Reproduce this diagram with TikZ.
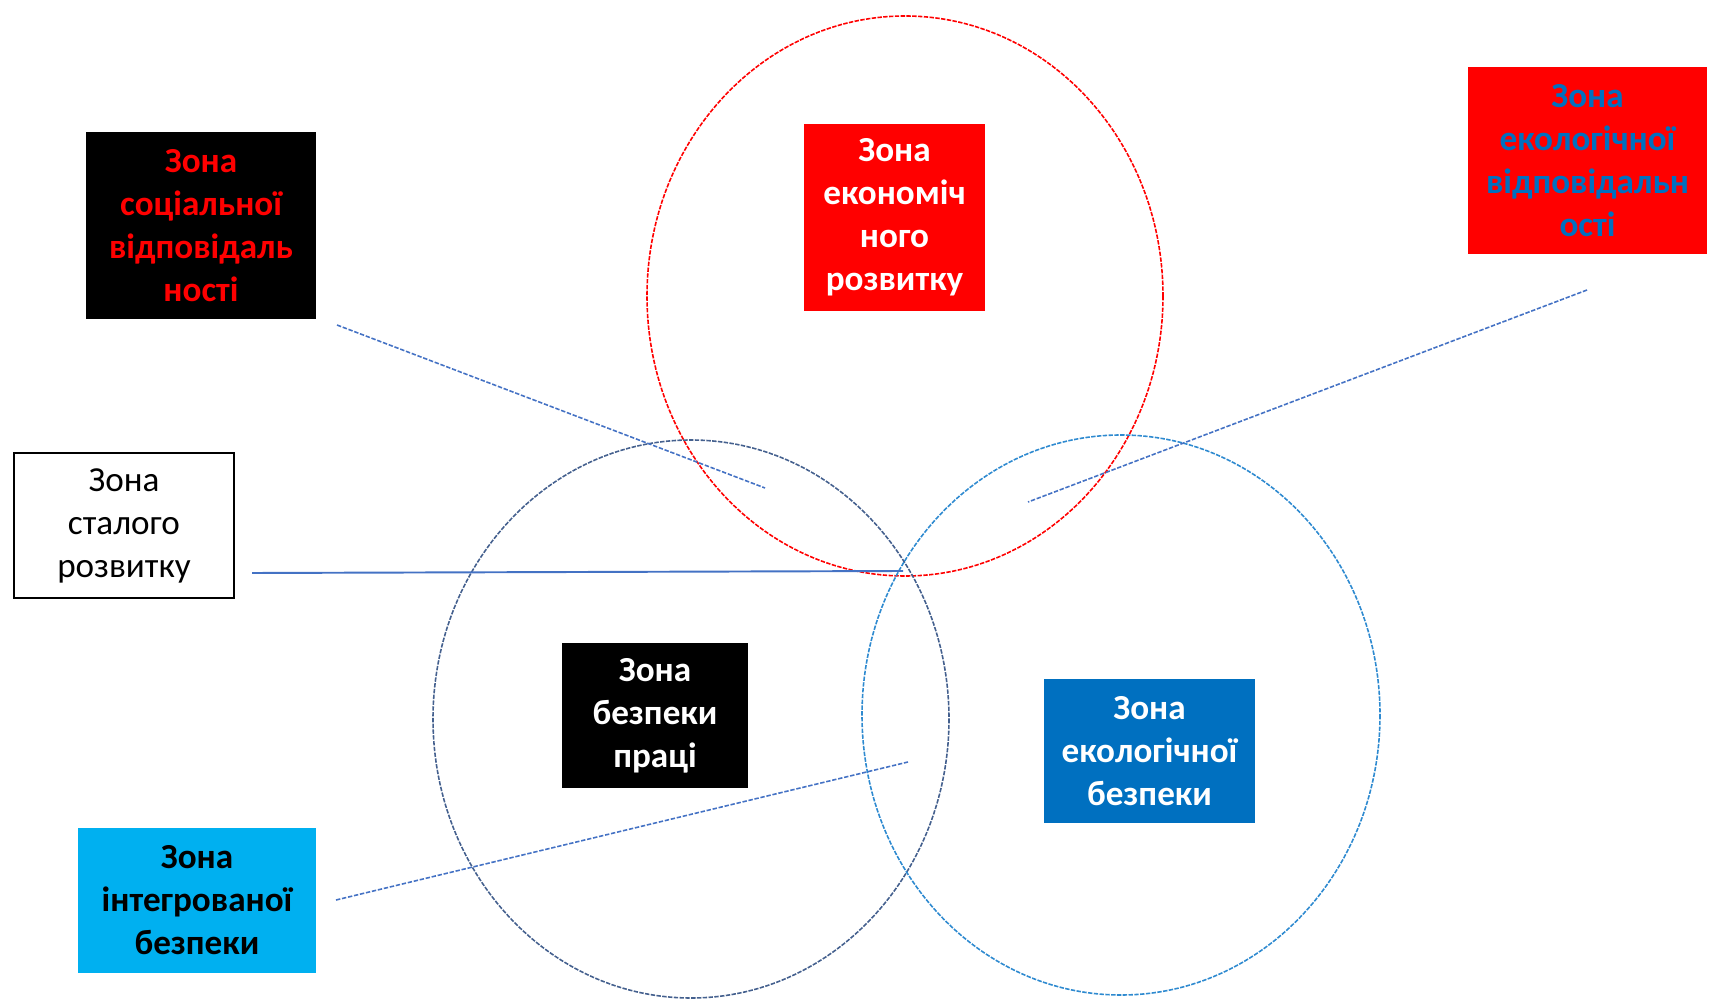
\documentclass[tikz,border=0pt]{standalone}
\usepackage{fontspec}
\setmainfont{Carlito}
\definecolor{zred}{HTML}{FF0000}
\definecolor{zblue}{HTML}{0070C0}
\definecolor{zcyan}{HTML}{00B0F0}
\definecolor{zlink}{HTML}{4472C4}
\definecolor{zdark}{HTML}{44608E}
\definecolor{zlight}{HTML}{2E8AD0}
\begin{document}
\begin{tikzpicture}[x=0.02cm,y=-0.02cm,
  zone/.style={align=center,inner sep=0pt,font=\fontsize{20}{24.5}\selectfont\bfseries},
  ring/.style={line width=0.9pt,dash pattern=on 2.5pt off 0.8pt},
  link/.style={zlink,line width=0.9pt,dash pattern=on 2.5pt off 1pt}]
\useasboundingbox (0,0) rectangle (1710,999);

% three overlapping zones
\draw[ring,zred]   (905,296) ellipse [x radius=258, y radius=280];
\draw[ring,zdark]  (691,719) ellipse [x radius=258, y radius=279];
\draw[ring,zlight] (1121,715) ellipse [x radius=259, y radius=280];

% label boxes
\node[zone,fill=black,text=zred,minimum width=230*0.02cm,minimum height=187*0.02cm] (soc) at (201,225.5)
  {Зона\\соціальної\\відповідаль\\ності};
\node[zone,fill=zred,text=zblue,minimum width=239*0.02cm,minimum height=187*0.02cm] (ecoresp) at (1587.5,160.5)
  {Зона\\екологічної\\відповідальн\\ості};
\node[zone,fill=zred,text=white,minimum width=181*0.02cm,minimum height=187*0.02cm] (econ) at (894.5,217.5)
  {Зона\\економіч\\ного\\розвитку};
\node[zone,draw=black,line width=1pt,fill=white,text=black,font=\fontsize{20}{24.5}\selectfont,minimum width=220*0.02cm,minimum height=145*0.02cm] (sust) at (124,525.5)
  {Зона\\сталого\\розвитку};
\node[zone,fill=zcyan,text=black,minimum width=238*0.02cm,minimum height=145*0.02cm] (integ) at (197,900.5)
  {Зона\\інтегрованої\\безпеки};
\node[zone,fill=black,text=white,minimum width=186*0.02cm,minimum height=145*0.02cm] (labour) at (655,715.5)
  {Зона\\безпеки\\праці};
\node[zone,fill=zblue,text=white,minimum width=211*0.02cm,minimum height=144*0.02cm] (ecosafe) at (1149.5,751)
  {Зона\\екологічної\\безпеки};

% connector ends pointing into the overlaps
\coordinate (socA) at (337,325);
\coordinate (socB) at (765,488);
\coordinate (ecoA) at (1587,290);
\coordinate (ecoB) at (1028,502);
\coordinate (sustA) at (252,573);
\coordinate (sustB) at (903,571);
\coordinate (intA) at (336,900);
\coordinate (intB) at (908,762);

\draw[link] (socA) -- (socB);
\draw[link] (ecoA) -- (ecoB);
\draw[zlink,line width=1.1pt] (sustA) -- (sustB);
\draw[link] (intA) -- (intB);
\end{tikzpicture}
\end{document}
